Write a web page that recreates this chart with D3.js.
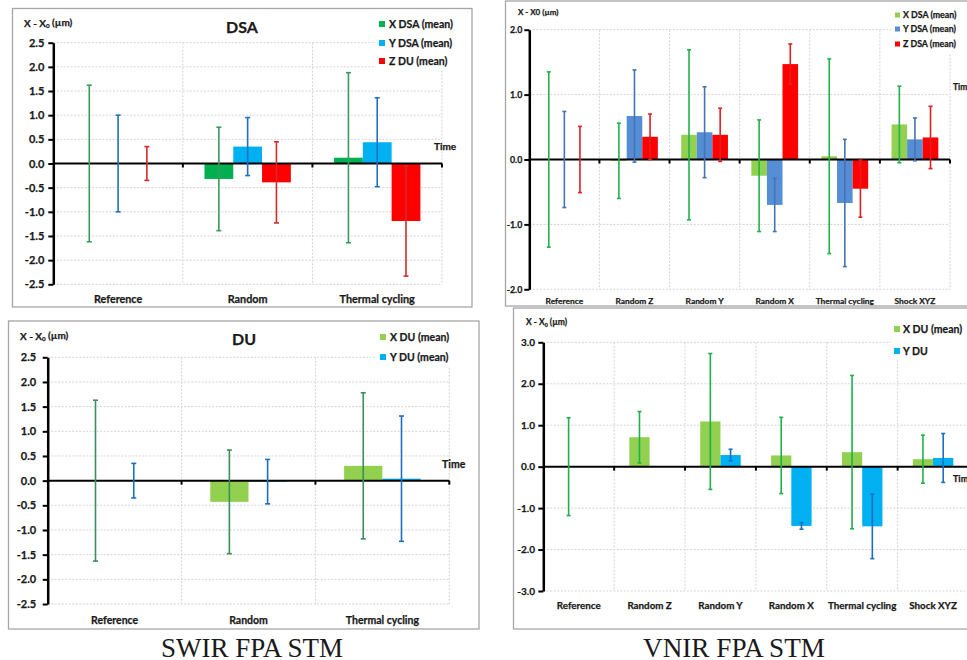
<!DOCTYPE html>
<html><head><meta charset="utf-8">
<script src="https://cdn.jsdelivr.net/npm/d3@7"></script>
<style>body{margin:0;background:#fff} svg{display:block} text{font-family:Lato,"Open Sans",sans-serif;font-weight:bold;fill:#1a1a1a;stroke:#1a1a1a;stroke-width:0.25px}</style>
</head><body><svg id="c" width="967" height="660"></svg>
<script>
// ---------- DATA ----------
const swirCategories = ["Reference", "Random", "Thermal cycling"];
const vnirCategories = ["Reference", "Random Z", "Random Y", "Random X", "Thermal cycling", "Shock XYZ"];

// SWIR FPA STM - DSA
const swirDsaNames = ["X DSA (mean)", "Y DSA (mean)", "Z DU (mean)"];
const swirDsaX = [0, -0.32, 0.12];
const swirDsaXErr = [1.62, 1.07, 1.76];
const swirDsaY = [0, 0.35, 0.44];
const swirDsaYErr = [1.00, 0.60, 0.92];
const swirDsaZ = [0, -0.39, -1.19];
const swirDsaZErr = [0.35, 0.84, 1.14];

// SWIR FPA STM - DU
const swirDuNames = ["X DU (mean)", "Y DU (mean)"];
const swirDuX = [0, -0.43, 0.30];
const swirDuXErr = [1.63, 1.05, 1.48];
const swirDuY = [0, -0.02, 0.04];
const swirDuYErr = [0.35, 0.45, 1.27];

// VNIR FPA STM - DSA
const vnirDsaNames = ["X DSA (mean)", "Y DSA (mean)", "Z DSA (mean)"];
const vnirDsaX = [0, -0.02, 0.38, -0.25, 0.05, 0.54];
const vnirDsaXErr = [1.35, 0.58, 1.31, 0.86, 1.50, 0.59];
const vnirDsaY = [0, 0.67, 0.42, -0.70, -0.67, 0.31];
const vnirDsaYErr = [0.74, 0.71, 0.70, 0.41, 0.98, 0.33];
const vnirDsaZ = [0, 0.35, 0.38, 1.47, -0.45, 0.34];
const vnirDsaZErr = [0.51, 0.35, 0.41, 0.31, 0.44, 0.48];

// VNIR FPA STM - DU
const vnirDuNames = ["X DU (mean)", "Y DU"];
const vnirDuX = [0, 0.71, 1.09, 0.27, 0.35, 0.18];
const vnirDuXErr = [1.18, 0.62, 1.64, 0.92, 1.85, 0.58];
const vnirDuY = [0, 0, 0.28, -1.43, -1.44, 0.21];
const vnirDuYErr = [null, null, 0.14, 0.08, 0.78, 0.59];

// Tick ranges
const swirTicks = [-2.5, 2.5, 0.5];
const vnirDsaTicks = [-2.0, 2.0, 1.0];
const vnirDuTicks = [-3.0, 3.0, 1.0];

const captions = ["SWIR FPA STM", "VNIR FPA STM"];

// ---------- DRAW ----------
const svg = d3.select("#c");
const fmt = d => (Math.abs(d) < 1e-9 ? 0 : d).toFixed(1);

function drawPanel(o) {
  const g = svg.append("g");
  const f = o.frame;
  g.append("rect").attr("x", f[0]).attr("y", f[1]).attr("width", f[2]).attr("height", f[3])
    .attr("fill", "#fff").attr("stroke", "#a6a6a6").attr("stroke-width", 1.3);

  const p = o.plot;
  const y = d3.scaleLinear().domain([o.ticks[0], o.ticks[1]]).range([p.bottom, p.top]);
  const x0 = d3.scaleBand().domain(o.categories).range([p.left, p.right]).padding(0);
  const x1 = d3.scaleBand().domain(o.series.map(s => s.name)).range([0, x0.bandwidth()])
    .paddingInner(0).paddingOuter(0.75);
  const tickVals = d3.range(o.ticks[0], o.ticks[1] + 1e-9, o.ticks[2]).map(t => Math.round(t * 10) / 10);

  // grid
  g.selectAll(".hg").data(tickVals.filter(t => t !== 0)).join("line")
    .attr("x1", p.left).attr("x2", p.right).attr("y1", d => y(d)).attr("y2", d => y(d))
    .attr("stroke", "#d4d4d4").attr("stroke-width", 1).attr("stroke-dasharray", "2,1.5");
  g.selectAll(".vg").data(o.categories).join("line")
    .attr("x1", d => x0(d) + x0.bandwidth()).attr("x2", d => x0(d) + x0.bandwidth())
    .attr("y1", p.top).attr("y2", p.bottom)
    .attr("stroke", "#d4d4d4").attr("stroke-width", 1).attr("stroke-dasharray", "2,1.5");

  // bars
  o.series.forEach(s => {
    g.selectAll(null).data(o.categories.map((c, i) => ({c, v: s.values[i]}))).join("rect")
      .attr("x", d => x0(d.c) + x1(s.name)).attr("width", x1.bandwidth())
      .attr("y", d => y(Math.max(0, d.v))).attr("height", d => Math.abs(y(d.v) - y(0)))
      .attr("fill", s.fill);
  });

  // legend background + legend
  const L = o.legend;
  g.append("rect").attr("x", L.x - 3).attr("y", L.ys[0] - 9).attr("width", L.w)
    .attr("height", L.ys[L.ys.length - 1] - L.ys[0] + 18).attr("fill", "#fff");
  o.series.forEach((s, i) => {
    g.append("rect").attr("x", L.x).attr("y", L.ys[i] - L.sq / 2).attr("width", L.sq).attr("height", L.sq).attr("fill", s.fill);
    g.append("text").attr("x", L.tx).attr("y", L.ys[i]).attr("dy", "0.36em")
      .attr("font-size", L.fs).text(s.name);
  });

  // x axis at zero
  const bounds = [p.left].concat(o.categories.map(c => x0(c) + x0.bandwidth()));
  g.append("line").attr("x1", p.left).attr("x2", p.right).attr("y1", y(0)).attr("y2", y(0))
    .attr("stroke", "#000").attr("stroke-width", 2);
  g.selectAll(".xt").data(bounds.slice(1)).join("line")
    .attr("x1", d => d).attr("x2", d => d).attr("y1", y(0)).attr("y2", y(0) + 4)
    .attr("stroke", "#000").attr("stroke-width", 2);

  // error bars
  o.series.forEach(s => {
    const cx = c => x0(c) + x1(s.name) + x1.bandwidth() / 2;
    const d = o.categories.map((c, i) => ({c, v: s.values[i], e: s.errs[i]})).filter(d => d.e !== null);
    const eg = g.append("g").attr("stroke", s.err).attr("stroke-width", 1.6);
    eg.selectAll(".ev").data(d).join("line")
      .attr("x1", d => cx(d.c)).attr("x2", d => cx(d.c))
      .attr("y1", d => y(d.v + d.e)).attr("y2", d => y(d.v - d.e));
    ["+", "-"].forEach(sg => {
      eg.selectAll(null).data(d).join("line")
        .attr("x1", d => cx(d.c) - o.cap).attr("x2", d => cx(d.c) + o.cap)
        .attr("y1", d => y(sg === "+" ? d.v + d.e : d.v - d.e))
        .attr("y2", d => y(sg === "+" ? d.v + d.e : d.v - d.e));
    });
  });

  // y axis
  const ax = g.append("g").attr("transform", `translate(${p.left},0)`)
    .call(d3.axisLeft(y).tickValues(tickVals).tickFormat(fmt).tickSizeInner(5).tickSizeOuter(0).tickPadding(o.tickPad));
  ax.select(".domain").attr("stroke", "#000").attr("stroke-width", 2.5);
  ax.selectAll(".tick line").attr("stroke", "#000").attr("stroke-width", 2);
  ax.selectAll(".tick text").attr("font-size", o.tickFs).attr("font-family", "Lato").attr("font-weight", "bold").attr("fill", "#1a1a1a");

  // category labels
  g.selectAll(".cl").data(o.categories).join("text")
    .attr("x", d => x0(d) + x0.bandwidth() / 2).attr("y", o.catY).attr("dy", "0.36em")
    .attr("text-anchor", "middle").attr("font-size", o.catFs).text(d => d);

  // title
  if (o.title) g.append("text").attr("x", o.title.x).attr("y", o.title.y).attr("dy", "0.36em")
    .attr("text-anchor", "middle").attr("font-size", o.title.fs).text(o.title.text);

  // y label
  const yl = g.append("text").attr("x", o.ylab.x).attr("y", o.ylab.y).attr("dy", "0.36em").attr("font-size", o.ylab.fs);
  if (o.ylab.sub) {
    yl.append("tspan").text("X - X");
    yl.append("tspan").attr("font-size", o.ylab.fs * 0.62).attr("dy", "0.3em").text("0");
    yl.append("tspan").attr("dy", "-0.2em").text(" (µm)");
  } else {
    yl.text("X - X0 (µm)");
  }

  // Time
  g.append("text").attr("x", o.time.x).attr("y", o.time.y).attr("dy", "0.36em").attr("font-size", o.time.fs).text("Time");
}

drawPanel({
  frame: [12.5, 8.5, 459.5, 298.5],
  plot: {left: 53.3, right: 442, top: 42.7, bottom: 284.3},
  ticks: swirTicks, categories: swirCategories,
  series: [
    {name: swirDsaNames[0], values: swirDsaX, errs: swirDsaXErr, fill: "#00b050", err: "#3a9a5c"},
    {name: swirDsaNames[1], values: swirDsaY, errs: swirDsaYErr, fill: "#00b0f0", err: "#1f70c4"},
    {name: swirDsaNames[2], values: swirDsaZ, errs: swirDsaZErr, fill: "#ff0000", err: "#d42a2a"}
  ],
  cap: 2.5, tickPad: 4, tickFs: 11, catFs: 10.8, catY: 299,
  legend: {x: 379, tx: 389, ys: [24, 43, 61], sq: 6, fs: 10.5, w: 90},
  title: {text: "DSA", x: 242, y: 27, fs: 16},
  ylab: {x: 24, y: 23, fs: 10, sub: true},
  time: {x: 434, y: 146, fs: 10}
});

drawPanel({
  frame: [505.5, 1, 470, 305],
  plot: {left: 529.3, right: 950, top: 29.7, bottom: 289.3},
  ticks: vnirDsaTicks, categories: vnirCategories,
  series: [
    {name: vnirDsaNames[0], values: vnirDsaX, errs: vnirDsaXErr, fill: "#92d050", err: "#22b24c"},
    {name: vnirDsaNames[1], values: vnirDsaY, errs: vnirDsaYErr, fill: "#558ed5", err: "#4673b5"},
    {name: vnirDsaNames[2], values: vnirDsaZ, errs: vnirDsaZErr, fill: "#ff0000", err: "#e02020"}
  ],
  cap: 2, tickPad: 2, tickFs: 8.8, catFs: 8.4, catY: 301,
  legend: {x: 895, tx: 903, ys: [15, 29, 44], sq: 5, fs: 8.8, w: 80},
  title: null,
  ylab: {x: 518, y: 12, fs: 8, sub: false},
  time: {x: 953, y: 87, fs: 8.5}
});

drawPanel({
  frame: [8.5, 321, 470.5, 308],
  plot: {left: 47.7, right: 449.3, top: 357.3, bottom: 604},
  ticks: swirTicks, categories: swirCategories,
  series: [
    {name: swirDuNames[0], values: swirDuX, errs: swirDuXErr, fill: "#92d050", err: "#3a8f5c"},
    {name: swirDuNames[1], values: swirDuY, errs: swirDuYErr, fill: "#00b0f0", err: "#1a6fc4"}
  ],
  cap: 2.5, tickPad: 6.5, tickFs: 11, catFs: 10.5, catY: 620,
  legend: {x: 380, tx: 390, ys: [337, 357], sq: 6, fs: 10.5, w: 90},
  title: {text: "DU", x: 244, y: 339, fs: 16},
  ylab: {x: 20, y: 336, fs: 10, sub: true},
  time: {x: 442, y: 464, fs: 10.5}
});

drawPanel({
  frame: [513.5, 308, 470, 321],
  plot: {left: 543.3, right: 968.5, top: 342.3, bottom: 591},
  ticks: vnirDuTicks, categories: vnirCategories,
  series: [
    {name: vnirDuNames[0], values: vnirDuX, errs: vnirDuXErr, fill: "#92d050", err: "#1fb04c"},
    {name: vnirDuNames[1], values: vnirDuY, errs: vnirDuYErr, fill: "#00b0f0", err: "#1a6fc4"}
  ],
  cap: 2, tickPad: 3.3, tickFs: 10, catFs: 9.8, catY: 605,
  legend: {x: 894, tx: 903, ys: [329, 351], sq: 6, fs: 10.5, w: 80},
  title: null,
  ylab: {x: 526, y: 322, fs: 8.5, sub: true},
  time: {x: 953, y: 479, fs: 9}
});

// captions
svg.selectAll(".cap").data(captions).join("text")
  .attr("x", (d, i) => [252, 734][i]).attr("y", 657)
  .attr("text-anchor", "middle").attr("textLength", 182).attr("lengthAdjust", "spacingAndGlyphs")
  .style("font-family", "'Liberation Serif','DejaVu Serif',serif").style("font-weight", "normal").style("stroke", "none")
  .attr("font-size", 28).attr("fill", "#000").text(d => d);
</script></body></html>
